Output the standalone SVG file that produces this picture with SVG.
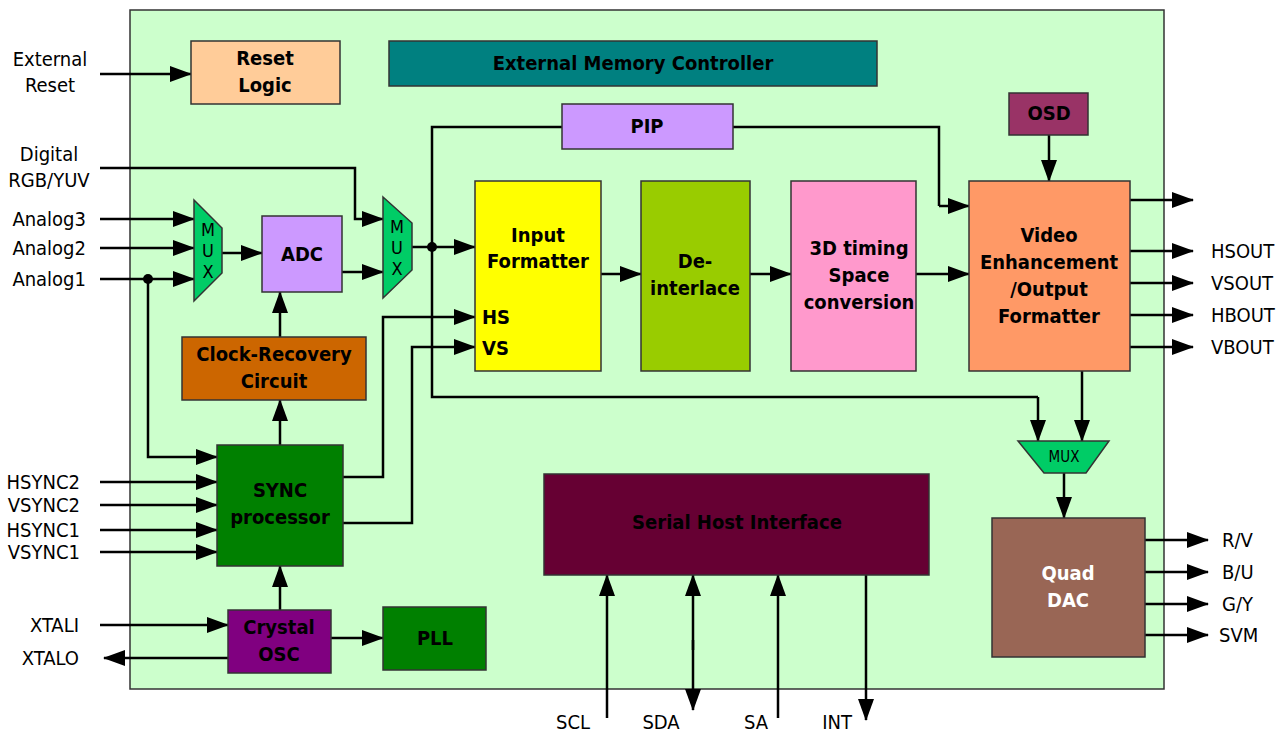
<svg xmlns="http://www.w3.org/2000/svg" width="1281" height="732" viewBox="0 0 1281 732">
<defs>
<marker id="ah" markerUnits="userSpaceOnUse" markerWidth="22" markerHeight="16" refX="21" refY="8" orient="auto">
<path d="M0,0 L22,8 L0,16 z" fill="#000"/>
</marker>
</defs>
<style>
.box{stroke:#333;stroke-width:1.5}
.lbl{font-family:"DejaVu Sans Condensed","DejaVu Sans",sans-serif;font-weight:bold;font-size:20px;text-anchor:middle;fill:#000}
.ext{font-family:"DejaVu Sans Condensed","DejaVu Sans",sans-serif;font-size:20px;fill:#000}
.mux{font-family:"DejaVu Sans Condensed","DejaVu Sans",sans-serif;font-size:18px;text-anchor:middle;fill:#000}
.mux3{font-family:"DejaVu Sans Condensed","DejaVu Sans",sans-serif;font-size:15px;text-anchor:middle;fill:#000}
.c{fill:none;stroke:#000;stroke-width:2.5}
.a{fill:none;stroke:#000;stroke-width:2.5;marker-end:url(#ah)}
</style>
<rect width="1281" height="732" fill="#fff"/>
<rect id="chip" x="130" y="10" width="1034" height="679" fill="#CCFFCC" stroke="#333" stroke-width="1.5"/>

<g id="connectors">
<path class="a" d="M100,74 H191"/>
<path class="a" d="M100,168 H355 V219 H383"/>
<path class="a" d="M100,219 H194"/>
<path class="a" d="M100,248 H194"/>
<path class="a" d="M100,279 H194"/>
<path class="a" d="M148,279 V457 H217"/>
<path class="a" d="M222,253 H262"/>
<path class="a" d="M342,272 H383"/>
<path class="a" d="M412,247 H475"/>
<path class="c" d="M733,127 H939 V206"/>
<path class="a" d="M939,206 H969"/>
<path class="c" d="M562,127 H432 V397 H1038"/>
<path class="a" d="M1038,397 V441"/>
<path class="a" d="M1049,135 V181"/>
<path class="a" d="M601,274 H641"/>
<path class="a" d="M750,274 H791"/>
<path class="a" d="M916,274 H969"/>
<path class="a" d="M1130,200 H1193"/>
<path class="a" d="M1130,251 H1193"/>
<path class="a" d="M1130,283 H1193"/>
<path class="a" d="M1130,315 H1193"/>
<path class="a" d="M1130,347 H1193"/>
<path class="a" d="M1082,371 V441"/>
<path class="a" d="M1064,473 V518"/>
<path class="a" d="M1145,540 H1208"/>
<path class="a" d="M1145,572 H1208"/>
<path class="a" d="M1145,604 H1208"/>
<path class="a" d="M1145,635 H1208"/>
<path class="a" d="M607,718 V575"/>
<path class="a" d="M693,650 V575"/>
<path class="a" d="M693,640 V710"/>
<path class="a" d="M778,718 V575"/>
<path class="a" d="M866,575 V720"/>
<path class="a" d="M343,477 H383 V317 H475"/>
<path class="a" d="M343,523 H412 V347 H475"/>
<path class="a" d="M280,445 V400"/>
<path class="a" d="M280,337 V292"/>
<path class="a" d="M280,610 V566"/>
<path class="a" d="M100,482 H217"/>
<path class="a" d="M100,505 H217"/>
<path class="a" d="M100,530 H217"/>
<path class="a" d="M100,552 H217"/>
<path class="a" d="M100,625 H228"/>
<path class="a" d="M228,658 H104"/>
<path class="a" d="M331,638 H383"/>
<circle cx="148" cy="279" r="5" fill="#000"/>
<circle cx="432" cy="247" r="5" fill="#000"/>
</g>

<g id="reset"><rect class="box" x="191" y="41" width="149" height="63" fill="#FFCC99"/><text class="lbl" x="265" y="65">Reset</text><text class="lbl" x="265" y="92">Logic</text></g>
<g id="emc"><rect class="box" x="389" y="41" width="488" height="45" fill="#008080"/><text class="lbl" x="633" y="70">External Memory Controller</text></g>
<g id="pip"><rect class="box" x="562" y="104" width="171" height="45" fill="#CC99FF"/><text class="lbl" x="647" y="133">PIP</text></g>
<g id="osd"><rect class="box" x="1009" y="93" width="79" height="42" fill="#993366"/><text class="lbl" x="1049" y="120">OSD</text></g>
<g id="mux1"><polygon class="box" points="194,200 222,228 222,273 194,301" fill="#00CC66"/><text class="mux" x="208" y="236">M</text><text class="mux" x="208" y="257">U</text><text class="mux" x="208" y="278">X</text></g>
<g id="adc"><rect class="box" x="262" y="216" width="80" height="76" fill="#CC99FF"/><text class="lbl" x="302" y="261">ADC</text></g>
<g id="mux2"><polygon class="box" points="383,197 412,223 412,270 383,298" fill="#00CC66"/><text class="mux" x="397" y="233">M</text><text class="mux" x="397" y="254">U</text><text class="mux" x="397" y="275">X</text></g>
<g id="inputfmt"><rect class="box" x="475" y="181" width="126" height="190" fill="#FFFF00"/><text class="lbl" x="538" y="242">Input</text><text class="lbl" x="538" y="268">Formatter</text><text class="lbl" x="482" y="324" style="text-anchor:start">HS</text><text class="lbl" x="482" y="355" style="text-anchor:start">VS</text></g>
<g id="deinterlace"><rect class="box" x="641" y="181" width="109" height="190" fill="#99CC00"/><text class="lbl" x="695" y="268">De-</text><text class="lbl" x="695" y="295">interlace</text></g>
<g id="timing3d"><rect class="box" x="791" y="181" width="125" height="190" fill="#FF99CC"/><text class="lbl" x="859" y="255">3D timing</text><text class="lbl" x="859" y="282">Space</text><text class="lbl" x="859" y="309">conversion</text></g>
<g id="video"><rect class="box" x="969" y="181" width="161" height="190" fill="#FF9966"/><text class="lbl" x="1049" y="242">Video</text><text class="lbl" x="1049" y="269">Enhancement</text><text class="lbl" x="1049" y="296">/Output</text><text class="lbl" x="1049" y="323">Formatter</text></g>
<g id="mux3"><polygon class="box" points="1018,441 1109,441 1086,473 1044,473" fill="#00CC66"/><text class="mux3" x="1064" y="462">MUX</text></g>
<g id="quaddac"><rect class="box" x="992" y="518" width="153" height="139" fill="#996655"/><text class="lbl" x="1068" y="580" style="fill:#fff">Quad</text><text class="lbl" x="1068" y="607" style="fill:#fff">DAC</text></g>
<g id="serialhost"><rect class="box" x="544" y="474" width="385" height="101" fill="#660033"/><text class="lbl" x="737" y="529">Serial Host Interface</text></g>
<g id="clockrec"><rect class="box" x="182" y="337" width="184" height="63" fill="#CC6600"/><text class="lbl" x="274" y="361">Clock-Recovery</text><text class="lbl" x="274" y="388">Circuit</text></g>
<g id="sync"><rect class="box" x="217" y="445" width="126" height="121" fill="#008000"/><text class="lbl" x="280" y="497">SYNC</text><text class="lbl" x="280" y="524">processor</text></g>
<g id="crystal"><rect class="box" x="228" y="610" width="103" height="63" fill="#800080"/><text class="lbl" x="279" y="634">Crystal</text><text class="lbl" x="279" y="661">OSC</text></g>
<g id="pll"><rect class="box" x="383" y="607" width="103" height="63" fill="#008000"/><text class="lbl" x="435" y="645">PLL</text></g>

<g id="labels">
<text class="ext" x="50" y="66" text-anchor="middle">External</text>
<text class="ext" x="50" y="92" text-anchor="middle">Reset</text>
<text class="ext" x="49" y="161" text-anchor="middle">Digital</text>
<text class="ext" x="49" y="187" text-anchor="middle">RGB/YUV</text>
<text class="ext" x="86" y="226" text-anchor="end">Analog3</text>
<text class="ext" x="86" y="255" text-anchor="end">Analog2</text>
<text class="ext" x="86" y="286" text-anchor="end">Analog1</text>
<text class="ext" x="80" y="489" text-anchor="end">HSYNC2</text>
<text class="ext" x="80" y="512" text-anchor="end">VSYNC2</text>
<text class="ext" x="80" y="537" text-anchor="end">HSYNC1</text>
<text class="ext" x="80" y="559" text-anchor="end">VSYNC1</text>
<text class="ext" x="79" y="632" text-anchor="end">XTALI</text>
<text class="ext" x="79" y="665" text-anchor="end">XTALO</text>
<text class="ext" x="1211" y="258">HSOUT</text>
<text class="ext" x="1211" y="290">VSOUT</text>
<text class="ext" x="1211" y="322">HBOUT</text>
<text class="ext" x="1211" y="354">VBOUT</text>
<text class="ext" x="1222" y="547">R/V</text>
<text class="ext" x="1222" y="579">B/U</text>
<text class="ext" x="1222" y="611">G/Y</text>
<text class="ext" x="1219" y="642">SVM</text>
<text class="ext" x="573" y="729" text-anchor="middle">SCL</text>
<text class="ext" x="661" y="729" text-anchor="middle">SDA</text>
<text class="ext" x="756" y="729" text-anchor="middle">SA</text>
<text class="ext" x="837" y="729" text-anchor="middle">INT</text>
</g>
</svg>
